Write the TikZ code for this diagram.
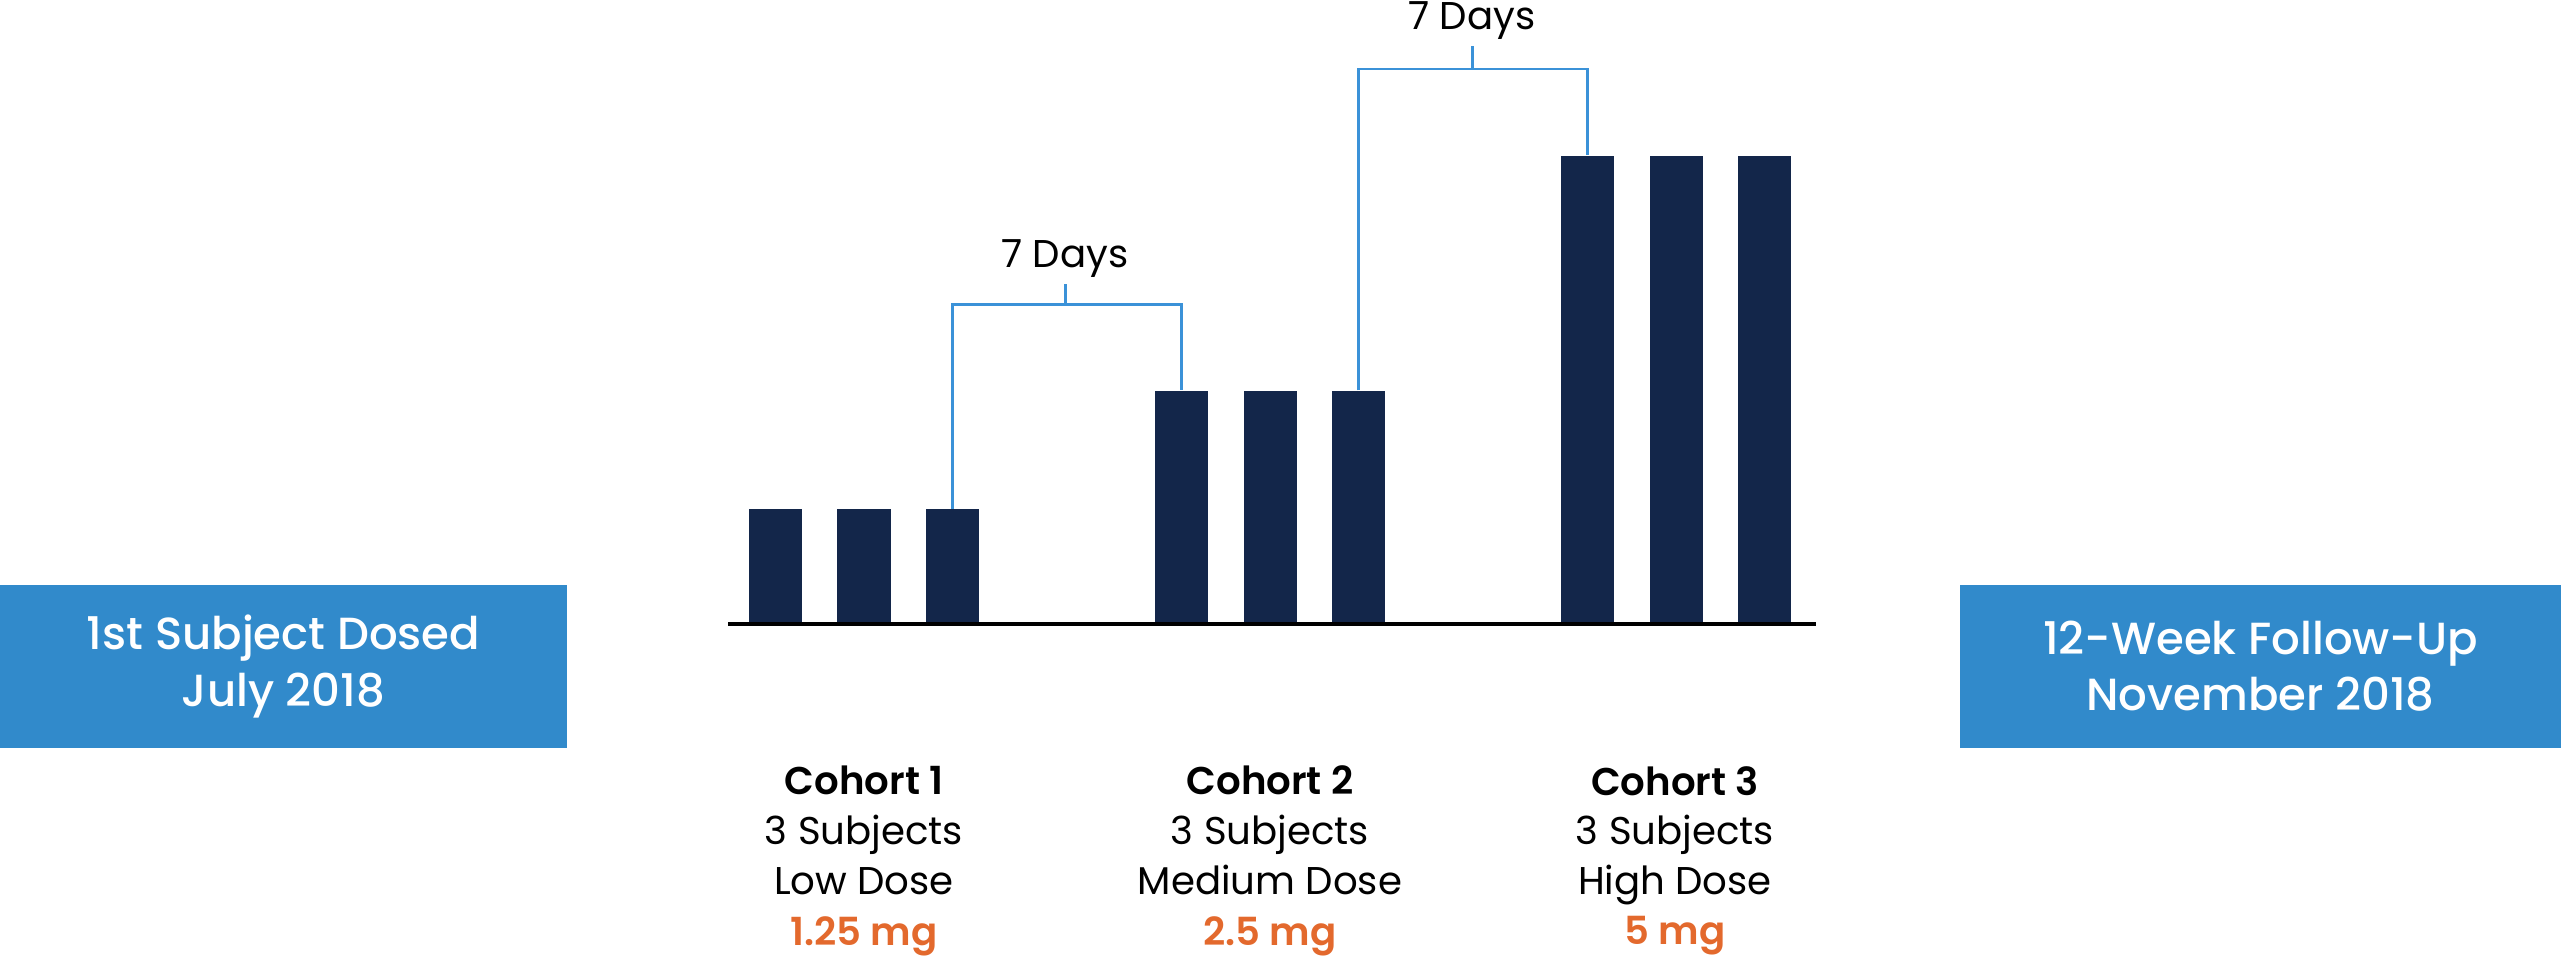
\documentclass[tikz,border=0pt]{standalone}
\usepackage{fontspec}
\setmainfont{Poppins}[BoldFont={Poppins SemiBold}]
\newfontfamily\boxfont{Poppins Medium}
\usetikzlibrary{positioning}
\definecolor{navy}{HTML}{13264A}
\definecolor{boxblue}{HTML}{318ACB}
\definecolor{linkblue}{HTML}{3B92D8}
\definecolor{doseorange}{HTML}{E3692D}
\tikzset{
  bar/.style={fill=navy,draw=none,minimum width=0.53cm,inner sep=0pt,anchor=south},
  datebox/.style={fill=boxblue,text=white,inner sep=0pt,minimum height=1.63cm,align=center,font=\boxfont\fontsize{12.8}{16}\selectfont},
  cohorttxt/.style={align=center,font=\fontsize{11}{14.2}\selectfont},
  dosetxt/.style={text=doseorange,font=\fontsize{11}{14}\selectfont\bfseries},
  link/.style={linkblue,line width=0.85pt},
  daystxt/.style={inner sep=0pt,font=\fontsize{11}{14}\selectfont}
}
\begin{document}
\begin{tikzpicture}[x=0.01cm,y=-0.01cm]
\useasboundingbox (0,0) rectangle (2561,957);
\node[datebox,minimum width=5.67cm] (start) at (283.5,666.5) {1st Subject Dosed\\July 2018};
\node[datebox,minimum width=6.01cm] (follow) at (2260.5,666.5) {12-Week Follow-Up\\November 2018};
\foreach \c/\h in {1/1.14cm,2/2.32cm,3/4.67cm}
  \foreach \b in {1,2,3}
    \node[bar,minimum height=\h] (c\c b\b) at ({281+406*\c+88.5*\b},624) {};
\coordinate (axl) at (728,624);
\coordinate (axr) at (1816,624);
\draw[line width=0.9pt] (axl) -- (axr);
\draw[link] (c1b3.north) |- (1065,304) coordinate (k1) -| (c2b1.north);
\draw[link] (k1) -- ++(0,-20);
\node[daystxt] (days1) at (1065,259) {7 Days};
\draw[link] (c2b3.north) |- (1472,69) coordinate (k2) -| (c3b1.north);
\draw[link] (k2) -- ++(0,-23);
\node[daystxt] (days2) at (1472,21) {7 Days};
\node[cohorttxt] (coh1) at (864,838) {\textbf{Cohort 1}\\3 Subjects\\Low Dose\strut};
\node[cohorttxt] (coh2) at (1270,838) {\textbf{Cohort 2}\\3 Subjects\\Medium Dose\strut};
\node[cohorttxt] (coh3) at (1675,838) {\textbf{Cohort 3}\\3 Subjects\\High Dose\strut};
\node[dosetxt] (dose1) at (864,936) {1.25 mg};
\node[dosetxt] (dose2) at (1270,936) {2.5 mg};
\node[dosetxt] (dose3) at (1675,936) {5 mg};
\end{tikzpicture}
\end{document}
